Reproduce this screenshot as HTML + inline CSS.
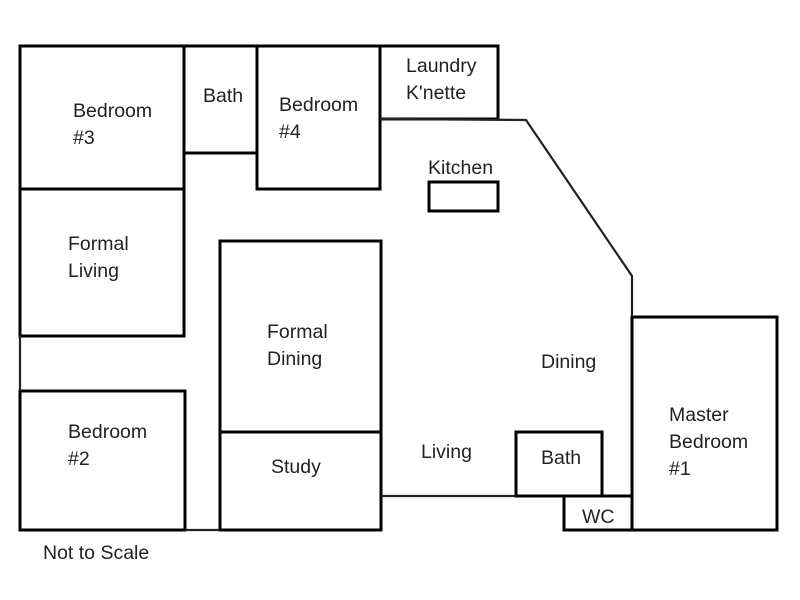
<!DOCTYPE html>
<html><head><meta charset="utf-8"><style>
html,body{margin:0;padding:0;background:#fff;}
svg{display:block}
text{font-family:"Liberation Sans",sans-serif;font-size:19.5px;fill:#222;}
</style></head><body>
<svg width="800" height="600" viewBox="0 0 800 600" xmlns="http://www.w3.org/2000/svg">
<g fill="none" stroke="#000" stroke-width="3">
<rect x="20" y="46" width="164" height="143"/>
<rect x="184" y="46" width="73" height="107"/>
<rect x="257" y="46" width="123" height="143"/>
<rect x="380" y="46" width="118" height="73"/>
<rect x="20" y="189" width="164" height="147"/>
<rect x="20" y="391" width="165" height="139"/>
<rect x="220" y="241" width="161" height="191"/>
<rect x="220" y="432" width="161" height="98"/>
<rect x="516" y="432" width="86" height="64"/>
<rect x="564" y="496" width="68" height="34"/>
<rect x="632" y="317" width="145" height="213"/>
<rect x="429" y="182" width="69" height="29"/>
</g>
<g fill="none" stroke="#222" stroke-width="2.2">
<polyline points="380,119 526,120 632,276 632,317"/>
<line x1="20" y1="336" x2="20" y2="391"/>
<line x1="185" y1="530" x2="220" y2="530"/>
<line x1="381" y1="496" x2="516" y2="496"/>
</g>
<text x="73" y="117">Bedroom</text><text x="73" y="144">#3</text>
<text x="203" y="102">Bath</text>
<text x="279" y="111">Bedroom</text><text x="279" y="138">#4</text>
<text x="406" y="72">Laundry</text><text x="406" y="99">K'nette</text>
<text x="428" y="174">Kitchen</text>
<text x="68" y="250">Formal</text><text x="68" y="277">Living</text>
<text x="267" y="338">Formal</text><text x="267" y="365">Dining</text>
<text x="541" y="368">Dining</text>
<text x="68" y="438">Bedroom</text><text x="68" y="465">#2</text>
<text x="271" y="473">Study</text>
<text x="421" y="458">Living</text>
<text x="541" y="464">Bath</text>
<text x="582" y="523">WC</text>
<text x="669" y="421">Master</text><text x="669" y="448">Bedroom</text><text x="669" y="475">#1</text>
<text x="43" y="559">Not to Scale</text>
</svg>
</body></html>
